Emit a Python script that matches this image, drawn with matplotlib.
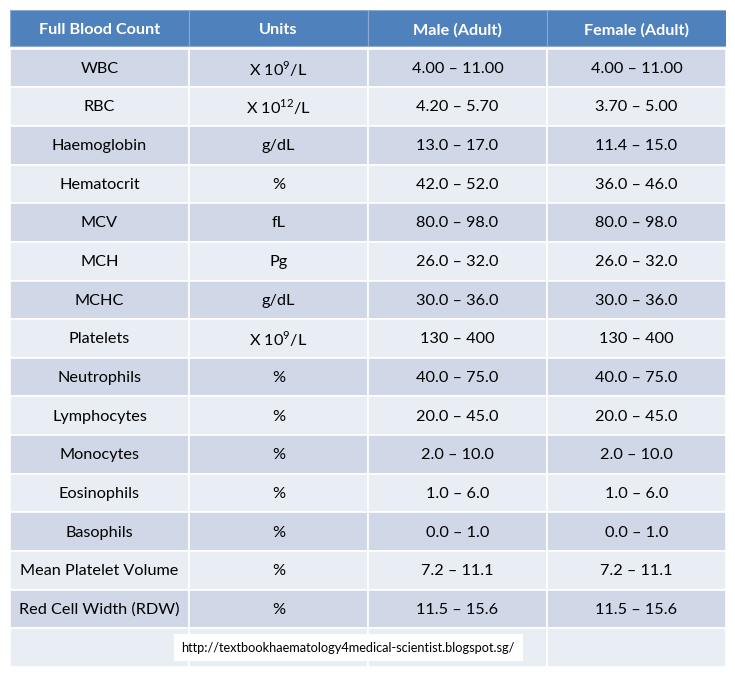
#!/usr/bin/env python3

import matplotlib.pyplot as plt
from matplotlib.patches import Rectangle

plt.rcParams['font.family'] = ['Lato', 'DejaVu Sans']
plt.rcParams['mathtext.fontset'] = 'custom'
plt.rcParams['mathtext.rm'] = 'Lato'

headers = ["Full Blood Count", "Units", "Male (Adult)", "Female (Adult)"]
tests = ["WBC", "RBC", "Haemoglobin", "Hematocrit", "MCV", "MCH", "MCHC",
         "Platelets", "Neutrophils", "Lymphocytes", "Monocytes", "Eosinophils",
         "Basophils", "Mean Platelet Volume", "Red Cell Width (RDW)"]
units = [r"X 10$^{\mathrm{9}}$/L", r"X 10$^{\mathrm{12}}$/L", "g/dL", "%", "fL", "Pg",
         "g/dL", r"X 10$^{\mathrm{9}}$/L", "%", "%", "%", "%", "%", "%", "%"]
male = ["4.00 – 11.00", "4.20 – 5.70", "13.0 – 17.0", "42.0 – 52.0", "80.0 – 98.0",
        "26.0 – 32.0", "30.0 – 36.0", "130 – 400", "40.0 – 75.0", "20.0 – 45.0",
        "2.0 – 10.0", "1.0 – 6.0", "0.0 – 1.0", "7.2 – 11.1", "11.5 – 15.6"]
female = ["4.00 – 11.00", "3.70 – 5.00", "11.4 – 15.0", "36.0 – 46.0", "80.0 – 98.0",
          "26.0 – 32.0", "30.0 – 36.0", "130 – 400", "40.0 – 75.0", "20.0 – 45.0",
          "2.0 – 10.0", "1.0 – 6.0", "0.0 – 1.0", "7.2 – 11.1", "11.5 – 15.6"]
source = "http://textbookhaematology4medical-scientist.blogspot.sg/"

header_col = "#4F81BD"
dark_row = "#D0D8E8"
light_row = "#E9EDF4"


def main():
    fig = plt.figure(figsize=(7.35, 6.76), dpi=100)
    ax = fig.add_axes([10 / 735, 9 / 676, 716 / 735, 657 / 676])
    nrows = len(tests) + 2
    ax.set_xlim(0, 4)
    ax.set_ylim(nrows, 0)
    ax.axis('off')

    columns = [tests, units, male, female]

    # header
    for c, h in enumerate(headers):
        ax.add_patch(Rectangle((c, 0), 1, 0.94, facecolor=header_col,
                               edgecolor='#8EA9D0', linewidth=0.8))
        ax.text(c + 0.5, 0.52, h, ha='center', va='center', color='white',
                fontsize=11.7, fontweight='bold')

    # body
    for r in range(len(tests)):
        color = dark_row if r % 2 == 0 else light_row
        y = r + 1
        for c in range(4):
            ax.add_patch(Rectangle((c, y), 1, 1, facecolor=color,
                                   edgecolor='white', linewidth=1.2))
            ax.text(c + 0.5, y + 0.52, columns[c][r], ha='center', va='center',
                    color='black', fontsize=11.7)

    # last row with source
    y = len(tests) + 1
    color = dark_row if len(tests) % 2 == 0 else light_row
    for c in range(4):
        ax.add_patch(Rectangle((c, y), 1, 1, facecolor=color,
                               edgecolor='white', linewidth=1.2))
    ax.text(1.89, y + 0.5, source, ha='center', va='center',
            fontsize=9.2, color='black',
            bbox=dict(boxstyle='square,pad=0.6', facecolor='white',
                      edgecolor='none'))

    fig.savefig("out.png", dpi=100, facecolor='white')


if __name__ == "__main__":
    main()
